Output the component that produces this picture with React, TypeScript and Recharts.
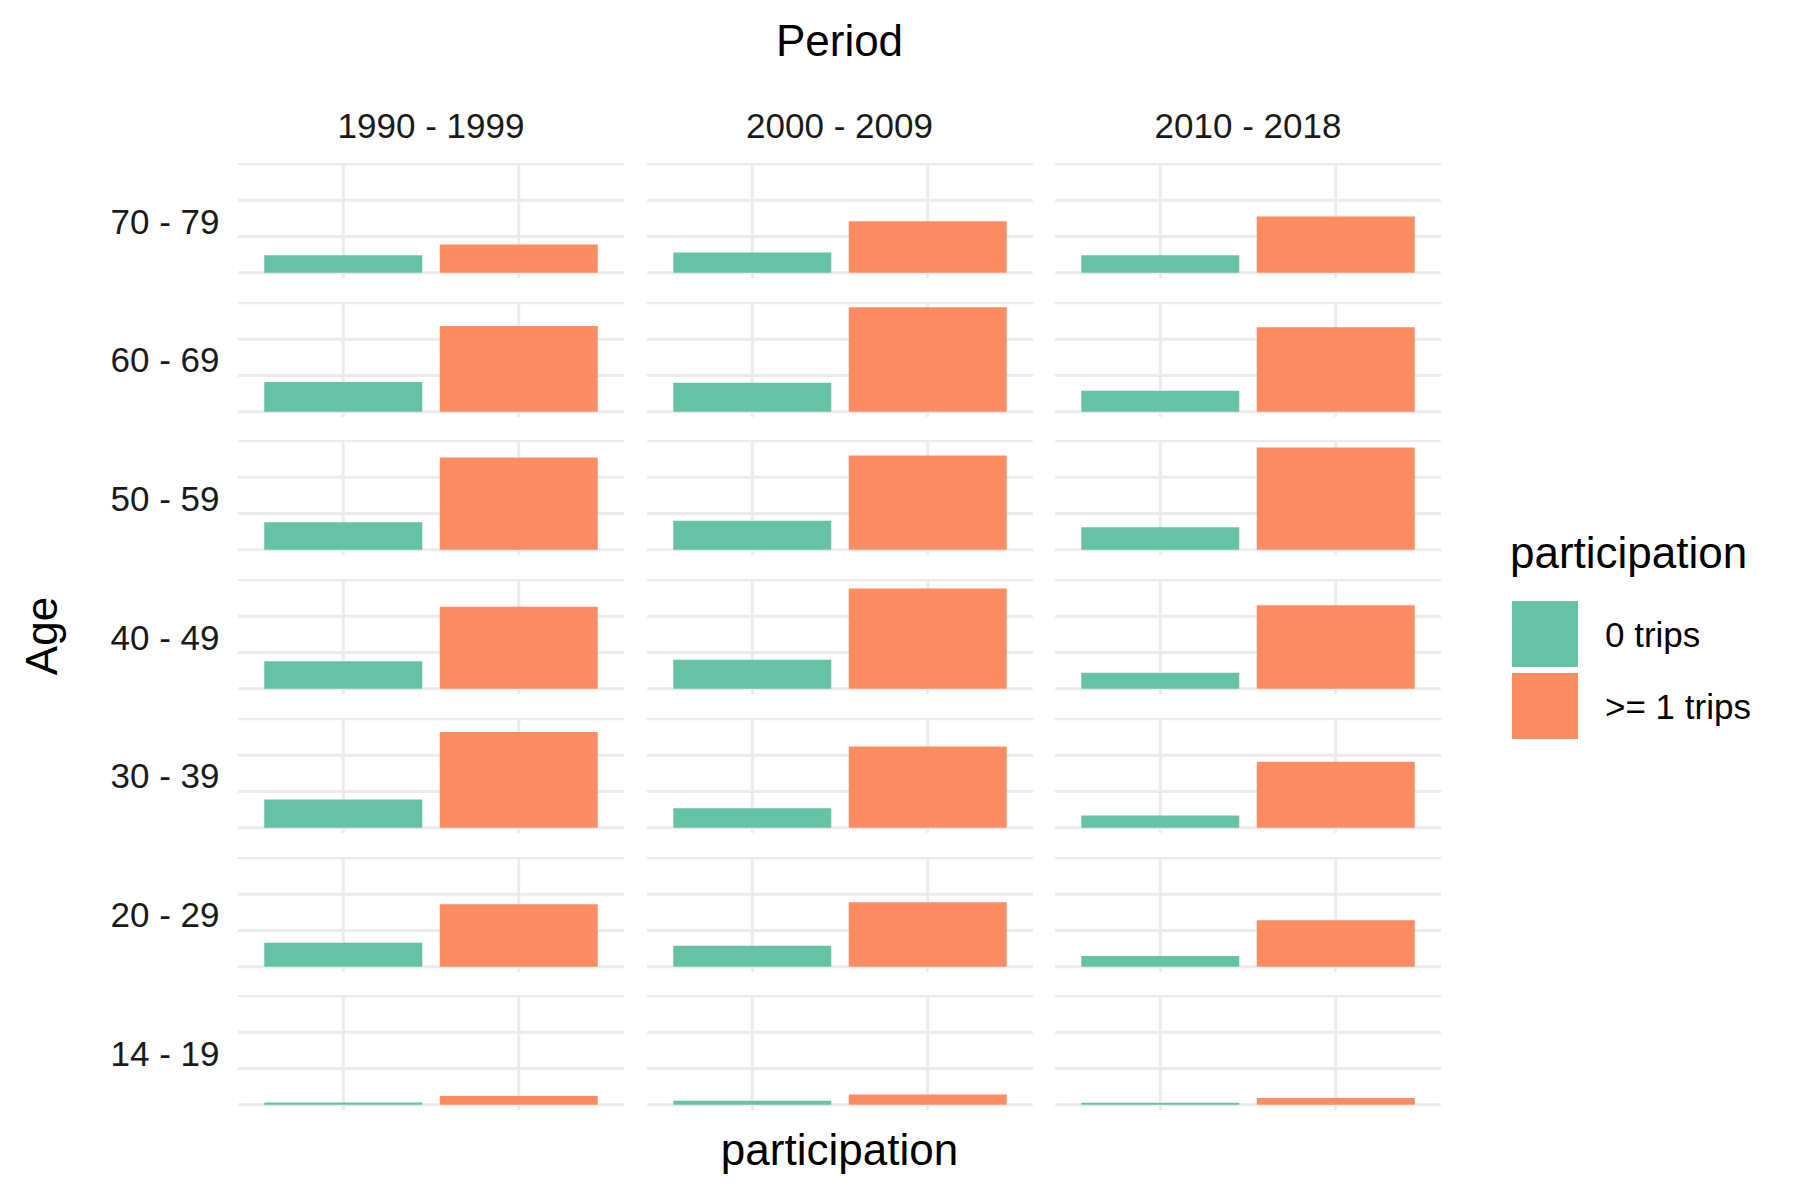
import React from 'react';
import { BarChart, Bar, XAxis, YAxis, CartesianGrid, Cell } from 'recharts';

// facettes : colonnes = période, lignes = tranche d'âge
const periods = ['1990 - 1999', '2000 - 2009', '2010 - 2018'];
const ageGroups = ['70 - 79', '60 - 69', '50 - 59', '40 - 49', '30 - 39', '20 - 29', '14 - 19'];
const participationLevels = ['0 trips', '>= 1 trips'];
const yTicks = [0, 5, 10, 15];

// valeurs (même ordre que ageGroups)
const zeroTrips1990 = [2.4, 4.1, 3.8, 3.8, 3.9, 3.3, 0.3];
const someTrips1990 = [3.9, 11.8, 12.7, 11.3, 13.2, 8.6, 1.2];
const zeroTrips2000 = [2.8, 4.0, 4.0, 4.0, 2.7, 2.9, 0.55];
const someTrips2000 = [7.1, 14.4, 13.0, 13.8, 11.2, 8.9, 1.4];
const zeroTrips2010 = [2.4, 2.9, 3.1, 2.2, 1.7, 1.5, 0.27];
const someTrips2010 = [7.75, 11.65, 14.1, 11.5, 9.1, 6.4, 0.95];

const zeroByPeriod = [zeroTrips1990, zeroTrips2000, zeroTrips2010];
const someByPeriod = [someTrips1990, someTrips2000, someTrips2010];

const COLORS = ['#66C2A5', '#FC8D62'];
const FONT = '"Liberation Sans", Arial, Helvetica, sans-serif';

// géométrie des panneaux
const PANEL_W = 386;
const PANEL_H = 115;
const COL_LEFT = 238;
const COL_STEP = 408.5;
const ROW_TOP = 163;
const ROW_STEP = 138.72;

const Panel = ({ values }: { values: number[] }) => {
    const data = participationLevels.map((p, i) => ({ participation: p, value: values[i] }));
    return (
        <BarChart
            width={PANEL_W}
            height={PANEL_H}
            data={data}
            margin={{ top: 0, right: 0, bottom: 0, left: 0 }}
            barCategoryGap="5%"
        >
            {/* syncWithTicks : pas de lignes ajoutées sur les bords du panneau */}
            <CartesianGrid stroke="#EBEBEB" strokeWidth={3} syncWithTicks />
            <XAxis dataKey="participation" hide interval={0} padding={{ left: 17.5, right: 17.5 }} />
            <YAxis type="number" hide interval={0} domain={[-0.72, 15.12]} ticks={yTicks} allowDataOverflow />
            <Bar dataKey="value" isAnimationActive={false}>
                {data.map((d, i) => (
                    <Cell key={`c-${i}`} fill={COLORS[i]} />
                ))}
            </Bar>
        </BarChart>
    );
};

export default function App() {
    return (
        <div style={{ position: 'absolute', left: 0, top: 0, width: 1800, height: 1200, background: '#fff', fontFamily: FONT }}>
            {periods.map((period, c) =>
                ageGroups.map((age, r) => (
                    <div
                        key={`${c}-${r}`}
                        style={{ position: 'absolute', left: COL_LEFT + c * COL_STEP, top: ROW_TOP + r * ROW_STEP }}
                    >
                        <Panel values={[zeroByPeriod[c][r], someByPeriod[c][r]]} />
                    </div>
                ))
            )}
            <svg width={1800} height={1200} style={{ position: 'absolute', left: 0, top: 0, pointerEvents: 'none' }} fontFamily={FONT}>
                <text x={839.5} y={56} fontSize={44} textAnchor="middle" fill="#000">Period</text>
                {periods.map((p, c) => (
                    <text key={p} x={COL_LEFT + c * COL_STEP + PANEL_W / 2} y={138} fontSize={35} textAnchor="middle" fill="#1A1A1A">
                        {p}
                    </text>
                ))}
                {ageGroups.map((a, r) => (
                    <text key={a} x={219.5} y={ROW_TOP + r * ROW_STEP + PANEL_H / 2 + 13} fontSize={35} textAnchor="end" fill="#1A1A1A">
                        {a}
                    </text>
                ))}
                <text x={56.5} y={636} fontSize={44} textAnchor="middle" fill="#000" transform="rotate(-90 56.5 636)">Age</text>
                <text x={839.5} y={1165} fontSize={44} textAnchor="middle" fill="#000">participation</text>
                {/* légende */}
                <text x={1510} y={568} fontSize={44} fill="#000">participation</text>
                {participationLevels.map((p, i) => (
                    <g key={p}>
                        <rect x={1512} y={601 + i * 72} width={66} height={66} fill={COLORS[i]} />
                        <text x={1605} y={646.5 + i * 72} fontSize={35} fill="#000">{p}</text>
                    </g>
                ))}
            </svg>
        </div>
    );
}
